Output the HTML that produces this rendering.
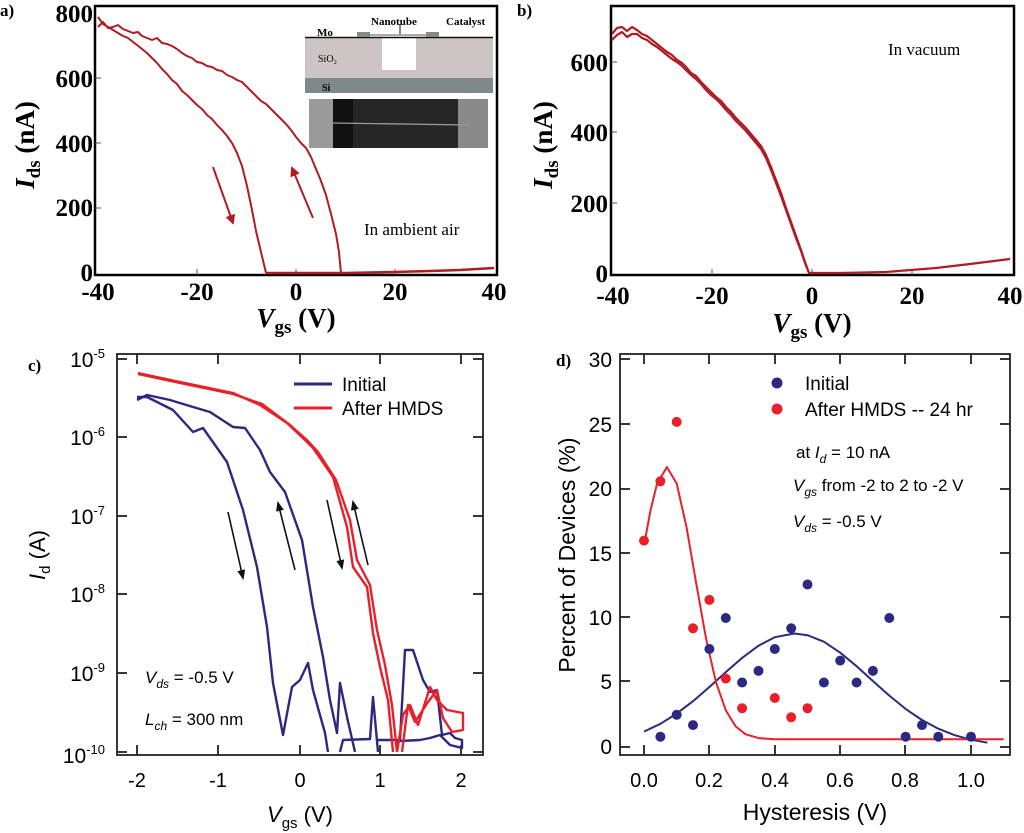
<!DOCTYPE html>
<html><head><meta charset="utf-8"><style>
html,body{margin:0;padding:0;background:#fff}
svg{display:block}
.sb{font-family:"Liberation Serif",serif;font-weight:bold}
.ss{font-family:"Liberation Sans",sans-serif}
</style></head><body>
<svg width="1024" height="833" viewBox="0 0 1024 833" xmlns="http://www.w3.org/2000/svg">
<defs>
<marker id="ar" markerWidth="10" markerHeight="10" refX="8" refY="5" orient="auto" markerUnits="userSpaceOnUse"><path d="M0,0 L10,5 L0,10 z" fill="#b01c24"/></marker>
<marker id="ak" markerWidth="10" markerHeight="10" refX="8" refY="5" orient="auto" markerUnits="userSpaceOnUse"><path d="M0,1 L10,5 L0,9 z" fill="#111"/></marker>
</defs>
<!-- ===== Panel a ===== -->
<g class="sb">
<text x="0" y="16" font-size="17">a)</text>
<rect x="95" y="6" width="402" height="269" fill="none" stroke="#000" stroke-width="2.5"/>
<g font-size="25" text-anchor="end">
<text x="93" y="22">800</text><text x="93" y="87">600</text><text x="93" y="152">400</text><text x="93" y="216">200</text><text x="93" y="281">0</text>
</g>
<g font-size="25" text-anchor="middle">
<text x="98" y="300">-40</text><text x="197" y="300">-20</text><text x="296" y="300">0</text><text x="395" y="300">20</text><text x="494" y="300">40</text>
</g>
<text x="0" y="0" font-size="27" style="transform:translate(34px,145px) rotate(-90deg)" text-anchor="middle"><tspan font-style="italic">I</tspan><tspan font-size="19" dy="6">ds</tspan><tspan dy="-6"> (nA)</tspan></text>
<text x="296" y="327" font-size="27" text-anchor="middle"><tspan font-style="italic">V</tspan><tspan font-size="19" dy="6">gs</tspan><tspan dy="-6"> (V)</tspan></text>
<g stroke="#555" stroke-width="1"><line x1="197" y1="275" x2="197" y2="269"/><line x1="296" y1="275" x2="296" y2="269"/><line x1="395" y1="275" x2="395" y2="269"/>
<line x1="95" y1="78" x2="101" y2="78"/><line x1="95" y1="143" x2="101" y2="143"/><line x1="95" y1="208" x2="101" y2="208"/></g>
<rect x="305" y="38" width="188" height="40" fill="#cdc5c3"/>
<rect x="382" y="38" width="34" height="32" fill="#fff"/>
<rect x="305" y="78" width="188" height="15" fill="#7f898b"/>
<line x1="305" y1="37.5" x2="493" y2="37.5" stroke="#111" stroke-width="1.5"/>
<rect x="357" y="32" width="13" height="5" fill="#888"/><rect x="426" y="32" width="13" height="5" fill="#888"/>
<line x1="370" y1="35" x2="426" y2="35" stroke="#555" stroke-width="1"/>
<line x1="400" y1="24" x2="400" y2="34" stroke="#111" stroke-width="1"/>
<text x="317" y="36" font-size="11">Mo</text>
<text x="371" y="25" font-size="11">Nanotube</text>
<text x="446" y="25" font-size="11">Catalyst</text>
<text x="318" y="62" font-size="10" font-weight="normal">SiO₂</text>
<text x="322" y="91" font-size="10">Si</text>
<rect x="309" y="99" width="179" height="49" fill="#262626"/>
<rect x="309" y="99" width="24" height="49" fill="#9a9a9a"/>
<rect x="458" y="99" width="30" height="49" fill="#8a8a8a"/>
<rect x="333" y="99" width="20" height="49" fill="#111"/>
<line x1="333" y1="123" x2="470" y2="125" stroke="#9a9a9a" stroke-width="1.3"/>
<text x="364" y="235" font-size="17" font-weight="normal">In ambient air</text>
</g>
<g fill="none" stroke="#b01c24" stroke-width="2" stroke-linejoin="round">
<polyline points="98,17 103,24 108,27 113,30 118,33 123,36 128,38 133,42 137,45 142,49 147,53 152,58 157,63 162,69 167,74 172,80 177,84 182,91 187,95 192,100 197,105 202,109 207,115 212,119 217,125 222,130 227,136 232,143 237,153 242,166 247,186 252,210 256,231 261,252 266,273"/>
<polyline points="98,27 103,22 108,28 113,27 118,25 123,29 128,31 133,33 138,32 142,36 147,38 152,40 157,38 162,43 167,44 172,46 177,49 182,53 187,56 192,58 197,62 202,63 207,66 212,67 217,70 222,71 227,75 232,77 237,80 242,82 247,87 252,92 256,96 261,101 266,104 271,109 276,114 281,119 286,124 291,130 296,137 301,143 306,148 311,157 316,169 321,181 326,195 331,214 336,234 339,252 341,273"/>
<polyline stroke-width="2.5" points="266,273 345,273 395,272 430,271 460,270 494,268"/>
</g>
<line x1="213" y1="167" x2="233" y2="223" stroke="#b01c24" stroke-width="2" marker-end="url(#ar)"/>
<line x1="313" y1="218" x2="292" y2="168" stroke="#b01c24" stroke-width="2" marker-end="url(#ar)"/>

<!-- ===== Panel b ===== -->
<g class="sb">
<text x="517" y="16" font-size="17">b)</text>
<rect x="611" y="6" width="403" height="269" fill="none" stroke="#000" stroke-width="2.5"/>
<g font-size="25" text-anchor="end">
<text x="608" y="71">600</text><text x="608" y="141">400</text><text x="608" y="212">200</text><text x="608" y="282">0</text>
</g>
<g font-size="25" text-anchor="middle">
<text x="613" y="304">-40</text><text x="712" y="304">-20</text><text x="812" y="304">0</text><text x="912" y="304">20</text><text x="1010" y="304">40</text>
</g>
<text x="0" y="0" font-size="27" text-anchor="middle" style="transform:translate(552px,145px) rotate(-90deg)"><tspan font-style="italic">I</tspan><tspan font-size="19" dy="6">ds</tspan><tspan dy="-6"> (nA)</tspan></text>
<text x="812" y="332" font-size="27" text-anchor="middle"><tspan font-style="italic">V</tspan><tspan font-size="19" dy="6">gs</tspan><tspan dy="-6"> (V)</tspan></text>
<g stroke="#555" stroke-width="1"><line x1="712" y1="275" x2="712" y2="269"/><line x1="812" y1="275" x2="812" y2="269"/><line x1="912" y1="275" x2="912" y2="269"/>
<line x1="611" y1="62" x2="617" y2="62"/><line x1="611" y1="132" x2="617" y2="132"/><line x1="611" y1="203" x2="617" y2="203"/></g>
<text x="888" y="55" font-size="17" font-weight="normal">In vacuum</text>
</g>
<g fill="none" stroke="#b01c24" stroke-width="2.2" stroke-linejoin="round">
<polyline points="612,34 617,28 622,27 627,31 632,27 637,30 642,34 647,36 652,40 657,44 662,48 667,52 672,55 677,60 682,63 686,67 691,73 696,76 701,82 706,87 711,92 716,97 721,101 726,107 731,112 736,118 741,123 746,128 751,134 756,140 761,146 766,155 771,167 776,180 781,193 786,208 791,222 796,236 801,250 805,262 809,273 840,273 886,272 936,268 970,264 1010,259"/>
<polyline points="612,40 617,35 622,32 627,37 632,34 637,34 642,38 647,40 652,44 657,47 662,51 667,55 672,59 677,62 682,66 686,70 691,75 696,79 701,84 706,90 711,95 716,99 721,104 726,110 731,115 736,121 741,126 746,131 751,137 756,143 761,149 766,158 771,170 776,183 781,196 786,210 791,224 796,238 801,251 805,263 809,273"/>
</g>

<!-- ===== Panel c ===== -->
<g class="ss">
<text x="28" y="371" font-size="17" font-family="Liberation Serif" font-weight="bold">c)</text>
<rect x="117" y="354" width="366" height="401" fill="none" stroke="#222" stroke-width="1.8"/>
<g font-size="21" text-anchor="end">
<text x="105" y="367">10<tspan font-size="13" dy="-9">-5</tspan></text>
<text x="105" y="445">10<tspan font-size="13" dy="-9">-6</tspan></text>
<text x="105" y="524">10<tspan font-size="13" dy="-9">-7</tspan></text>
<text x="105" y="602">10<tspan font-size="13" dy="-9">-8</tspan></text>
<text x="105" y="681">10<tspan font-size="13" dy="-9">-9</tspan></text>
<text x="105" y="763">10<tspan font-size="13" dy="-9">-10</tspan></text>
</g>
<g font-size="20" text-anchor="middle">
<text x="137" y="787">-2</text><text x="218" y="787">-1</text><text x="300" y="787">0</text><text x="380" y="787">1</text><text x="461" y="787">2</text>
</g>
<text x="0" y="0" font-size="22" style="transform:translate(45px,555px) rotate(-90deg)" text-anchor="middle"><tspan font-style="italic">I</tspan><tspan font-size="15" dy="5">d</tspan><tspan dy="-5"> (A)</tspan></text>
<text x="300" y="822" font-size="22" text-anchor="middle"><tspan font-style="italic">V</tspan><tspan font-size="15" dy="6">gs</tspan><tspan dy="-6"> (V)</tspan></text>
<g stroke="#222" stroke-width="1.8">
<line x1="117" y1="359" x2="127" y2="359"/><line x1="483" y1="359" x2="473" y2="359"/>
<line x1="117" y1="437" x2="127" y2="437"/><line x1="483" y1="437" x2="473" y2="437"/>
<line x1="117" y1="516" x2="127" y2="516"/><line x1="483" y1="516" x2="473" y2="516"/>
<line x1="117" y1="594" x2="127" y2="594"/><line x1="483" y1="594" x2="473" y2="594"/>
<line x1="117" y1="673" x2="127" y2="673"/><line x1="483" y1="673" x2="473" y2="673"/>
<line x1="117" y1="752" x2="127" y2="752"/><line x1="483" y1="752" x2="473" y2="752"/>
<line x1="137" y1="755" x2="137" y2="745"/><line x1="137" y1="354" x2="137" y2="364"/>
<line x1="218" y1="755" x2="218" y2="745"/><line x1="218" y1="354" x2="218" y2="364"/>
<line x1="300" y1="755" x2="300" y2="745"/><line x1="300" y1="354" x2="300" y2="364"/>
<line x1="380" y1="755" x2="380" y2="745"/><line x1="380" y1="354" x2="380" y2="364"/>
<line x1="461" y1="755" x2="461" y2="745"/><line x1="461" y1="354" x2="461" y2="364"/>
</g>
<line x1="294" y1="384" x2="332" y2="384" stroke="#2b2a80" stroke-width="3"/>
<text x="342" y="391" font-size="19">Initial</text>
<line x1="294" y1="408" x2="332" y2="408" stroke="#e8202a" stroke-width="3"/>
<text x="342" y="415" font-size="19">After HMDS</text>
<text x="145" y="683" font-size="17"><tspan font-style="italic">V</tspan><tspan font-style="italic" font-size="12" dy="5">ds</tspan><tspan dy="-5"> = -0.5 V</tspan></text>
<text x="145" y="725" font-size="17"><tspan font-style="italic">L</tspan><tspan font-style="italic" font-size="12" dy="5">ch</tspan><tspan dy="-5"> = 300 nm</tspan></text>
</g>
<g fill="none" stroke-width="2.4" stroke-linejoin="round">
<polyline stroke="#2b2a80" points="137,397 147,397 173,410 193,432 203,428 227,462 243,510 257,567 267,627 273,683 283,735 292,687 300,680 308,663 313,690 325,733 328,752"/>
<polyline stroke="#2b2a80" points="137,400 147,395 170,400 193,407 210,412 233,427 245,428 260,450 270,472 285,492 302,540 313,607 323,657 330,700 337,733 340,683 347,717 355,752"/>
<polyline stroke="#2b2a80" points="340,752 343,740 370,739 373,697 378,752"/>
<polyline stroke="#2b2a80" points="378,740 400,740 405,650 413,650 423,680 430,692 437,690 442,735 450,733 455,738 462,740 462,748 450,745 440,735 430,738 420,740 400,741 395,744"/>
<polyline stroke="#e8202a" points="138,373 180,382 233,393 260,405 287,423 305,440 313,448 333,477 347,527 353,567 367,587 373,633 380,667 388,700 393,752"/>
<polyline stroke="#e8202a" points="138,374 180,383 233,394 262,404 290,425 308,441 318,452 336,480 350,520 357,560 370,585 377,630 385,665 392,705 397,752"/>
<polyline stroke="#e8202a" points="397,752 403,715 410,705 418,725 430,687 437,700 447,710 463,713 463,730 452,732 443,718 437,690 428,702 415,722 408,705 402,752"/>
</g>
<g stroke="#111" stroke-width="1.6">
<line x1="228" y1="512" x2="243" y2="578" marker-end="url(#ak)"/>
<line x1="295" y1="570" x2="278" y2="503" marker-end="url(#ak)"/>
<line x1="327" y1="500" x2="342" y2="568" marker-end="url(#ak)"/>
<line x1="368" y1="565" x2="353" y2="502" marker-end="url(#ak)"/>
</g>

<!-- ===== Panel d ===== -->
<g class="ss">
<text x="556" y="366" font-size="17" font-family="Liberation Serif" font-weight="bold">d)</text>
<rect x="620" y="354" width="390" height="401" fill="none" stroke="#222" stroke-width="1.8"/>
<g font-size="21" text-anchor="end">
<text x="612" y="367">30</text><text x="612" y="432">25</text><text x="612" y="496">20</text><text x="612" y="561">15</text><text x="612" y="625">10</text><text x="612" y="689">5</text><text x="612" y="754">0</text>
</g>
<g font-size="20" text-anchor="middle">
<text x="644" y="787">0.0</text><text x="709" y="787">0.2</text><text x="775" y="787">0.4</text><text x="840" y="787">0.6</text><text x="905" y="787">0.8</text><text x="971" y="787">1.0</text>
</g>
<text x="0" y="0" font-size="23" style="transform:translate(575px,555px) rotate(-90deg)" text-anchor="middle">Percent of Devices (%)</text>
<text x="815" y="820" font-size="23" text-anchor="middle">Hysteresis (V)</text>
<g stroke="#222" stroke-width="1.8">
<line x1="620" y1="359" x2="630" y2="359"/><line x1="1010" y1="359" x2="1000" y2="359"/>
<line x1="620" y1="424" x2="630" y2="424"/><line x1="1010" y1="424" x2="1000" y2="424"/>
<line x1="620" y1="489" x2="630" y2="489"/><line x1="1010" y1="489" x2="1000" y2="489"/>
<line x1="620" y1="553" x2="630" y2="553"/><line x1="1010" y1="553" x2="1000" y2="553"/>
<line x1="620" y1="617" x2="630" y2="617"/><line x1="1010" y1="617" x2="1000" y2="617"/>
<line x1="620" y1="681" x2="630" y2="681"/><line x1="1010" y1="681" x2="1000" y2="681"/>
<line x1="620" y1="747" x2="630" y2="747"/><line x1="1010" y1="747" x2="1000" y2="747"/>
<line x1="644" y1="755" x2="644" y2="745"/><line x1="644" y1="354" x2="644" y2="364"/>
<line x1="709" y1="755" x2="709" y2="745"/><line x1="709" y1="354" x2="709" y2="364"/>
<line x1="775" y1="755" x2="775" y2="745"/><line x1="775" y1="354" x2="775" y2="364"/>
<line x1="840" y1="755" x2="840" y2="745"/><line x1="840" y1="354" x2="840" y2="364"/>
<line x1="905" y1="755" x2="905" y2="745"/><line x1="905" y1="354" x2="905" y2="364"/>
<line x1="971" y1="755" x2="971" y2="745"/><line x1="971" y1="354" x2="971" y2="364"/>
</g>
<circle cx="777" cy="383" r="5.5" fill="#2b2a80"/><text x="805" y="390" font-size="19">Initial</text>
<circle cx="777" cy="409" r="5.5" fill="#e8202a"/><text x="805" y="416" font-size="19">After HMDS -- 24 hr</text>
<text x="796" y="458" font-size="17">at  <tspan font-style="italic">I</tspan><tspan font-style="italic" font-size="12" dy="5">d</tspan><tspan dy="-5"> = 10 nA</tspan></text>
<text x="793" y="491" font-size="17"><tspan font-style="italic">V</tspan><tspan font-style="italic" font-size="12" dy="5">gs</tspan><tspan dy="-5"> from -2 to 2 to -2 V</tspan></text>
<text x="793" y="527" font-size="17"><tspan font-style="italic">V</tspan><tspan font-style="italic" font-size="12" dy="5">ds</tspan><tspan dy="-5"> = -0.5 V</tspan></text>
</g>
<g fill="none" stroke-width="2" stroke-linejoin="round">
<polyline stroke="#2b2a80" points="644,731.6 660.4,723.8 676.7,713.6 693,701.2 709.4,687 725.8,672.1 742.1,657.9 758.5,645.7 774.8,637.2 794.4,633.5 807.5,635.2 823.9,641.7 840.2,652.7 856.6,666.2 872.9,681 889.3,695.6 905.6,708.9 922,720 938.3,728.7 954.7,735.2 971,739.7 987.4,742.7"/>
<polyline stroke="#e8202a" points="644,545.4 650.5,510.3 657.1,483.5 666.9,467.1 676.7,483.5 686.5,527.1 696.3,583.8 706.1,638.8 715.9,681.9 725.8,710.3 735.6,726.4 745.4,734.2 758.5,738.1 774.8,739.3 1003.7,739.3"/>
</g>
<g fill="#2b2a80">
<circle cx="660.4" cy="736.7" r="5"/><circle cx="676.7" cy="714.8" r="5"/><circle cx="693" cy="725.1" r="5"/><circle cx="709.4" cy="649" r="5"/><circle cx="725.8" cy="618" r="5"/><circle cx="742.1" cy="682.5" r="5"/><circle cx="758.5" cy="670.9" r="5"/><circle cx="774.8" cy="649" r="5"/><circle cx="791.2" cy="628.3" r="5"/><circle cx="807.5" cy="584.5" r="5"/><circle cx="823.9" cy="682.5" r="5"/><circle cx="840.2" cy="660.6" r="5"/><circle cx="856.6" cy="682.5" r="5"/><circle cx="872.9" cy="670.9" r="5"/><circle cx="889.3" cy="618" r="5"/><circle cx="905.6" cy="736.7" r="5"/><circle cx="922" cy="725.1" r="5"/><circle cx="938.3" cy="736.7" r="5"/><circle cx="971" cy="736.7" r="5"/>
</g>
<g fill="#e8202a">
<circle cx="644" cy="540.6" r="5"/><circle cx="660.4" cy="481.3" r="5"/><circle cx="676.7" cy="421.9" r="5"/><circle cx="693" cy="628.3" r="5"/><circle cx="709.4" cy="599.9" r="5"/><circle cx="725.8" cy="678.6" r="5"/><circle cx="742.1" cy="708.3" r="5"/><circle cx="774.8" cy="698" r="5"/><circle cx="791.2" cy="717.3" r="5"/><circle cx="807.5" cy="708.3" r="5"/>
</g>
</svg>
</body></html>
